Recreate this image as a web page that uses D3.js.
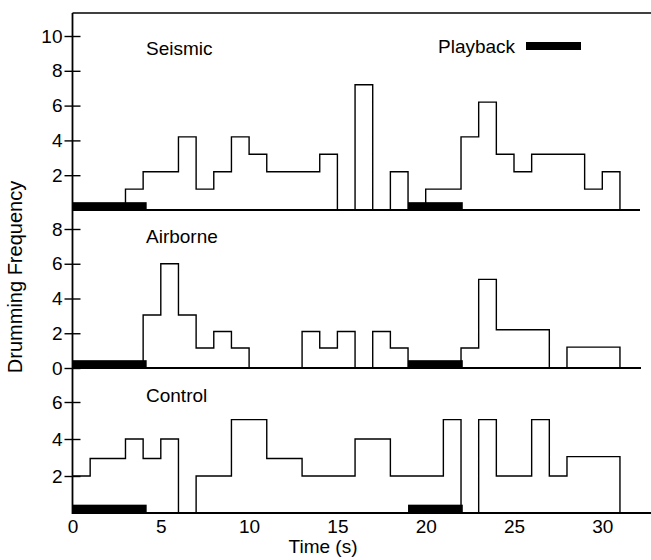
<!DOCTYPE html>
<html lang="en">

<head>
    <meta charset="UTF-8">
    <title>Drumming Frequency</title>
    <style>
        body {
            margin: 0;
            padding: 0;
            background-color: #fff;
            font-family: "Liberation Sans", Arial, sans-serif;
        }

        text {
            fill: #000;
        }
    </style>
</head>

<body>
    <div id="chart"></div>

    <script src="https://d3js.org/d3.v7.min.js"></script>
    <script>
        // 1 s bins, edges 0..31
        const binEdges = [0, 1, 2, 3, 4, 5, 6, 7, 8, 9, 10, 11, 12, 13, 14, 15, 16, 17, 18, 19, 20, 21, 22, 23, 24, 25, 26, 27, 28, 29, 30, 31];

        const seismic = [0, 0, 0, 1.2, 2.2, 2.2, 4.2, 1.2, 2.2, 4.2, 3.2, 2.2, 2.2, 2.2, 3.2, 0,
            7.2, 0, 2.2, 0, 1.2, 1.2, 4.2, 6.2, 3.2, 2.2, 3.2, 3.2, 3.2, 1.2, 2.2];
        const airborne = [0, 0, 0, 0, 3.05, 6.0, 3.05, 1.15, 2.1, 1.15, 0, 0, 0, 2.1, 1.15, 2.1,
            0, 2.1, 1.15, 0, 0, 0, 1.15, 5.1, 2.2, 2.2, 2.2, 0, 1.2, 1.2, 1.2];
        const control = [2, 2.95, 2.95, 4, 2.95, 4, 0, 2, 2, 5.05, 5.05, 2.95, 2.95, 2, 2, 2,
            4, 4, 2, 2, 2, 5.05, 0, 5.05, 2, 2, 5.05, 2, 3.05, 3.05, 3.05];

        // playback periods (s)
        const playback = [[0, 4.2], [19, 22.1]];

        const xTicks = [0, 5, 10, 15, 20, 25, 30];
        const seismicTicks = [2, 4, 6, 8, 10];
        const airborneTicks = [0, 2, 4, 6, 8];
        const controlTicks = [2, 4, 6];
        const panelNames = ["Seismic", "Airborne", "Control"];

        const width = 651, height = 560;
        const fontFamily = '"Liberation Sans", Arial, sans-serif';

        const svg = d3.select('#chart')
            .append('svg')
            .attr('width', width)
            .attr('height', height);

        const x = d3.scaleLinear().domain([0, 30]).range([72.5, 602.3]);

        // one panel per treatment, stacked on a shared vertical axis
        const panels = [
            { name: panelNames[0], values: seismic, ticks: seismicTicks, y: d3.scaleLinear().domain([0, 10]).range([210, 36]), end: 640, labelY: 55 },
            { name: panelNames[1], values: airborne, ticks: airborneTicks, y: d3.scaleLinear().domain([0, 8]).range([368, 229]), end: 641, labelY: 243 },
            { name: panelNames[2], values: control, ticks: controlTicks, y: d3.scaleLinear().domain([0, 6]).range([513, 402]), end: 651, labelY: 402 }
        ];

        const barHeight = 0.45; // thickness of playback bar, in data units

        panels.forEach(p => {
            const g = svg.append('g');

            // playback bars
            g.selectAll('.pb')
                .data(playback)
                .enter().append('rect')
                .attr('x', d => x(d[0]))
                .attr('y', p.y(barHeight))
                .attr('width', d => x(d[1]) - x(d[0]))
                .attr('height', p.y(0) - p.y(barHeight))
                .attr('fill', '#000');

            // step outline
            const pts = p.values.map((v, i) => [binEdges[i], v]);
            pts.push([binEdges[binEdges.length - 1], 0]);

            const line = d3.line()
                .x(d => x(d[0]))
                .y(d => p.y(d[1]))
                .curve(d3.curveStepAfter);

            g.append('path')
                .attr('d', line(pts))
                .attr('fill', 'none')
                .attr('stroke', '#000')
                .attr('stroke-width', 1.4);

            // baseline
            g.append('line')
                .attr('x1', x(0)).attr('x2', p.end)
                .attr('y1', p.y(0)).attr('y2', p.y(0))
                .attr('stroke', '#000')
                .attr('stroke-width', 1.8);

            // y ticks
            const yAxis = d3.axisLeft(p.y)
                .tickValues(p.ticks)
                .tickSize(8)
                .tickPadding(2)
                .tickFormat(d3.format('d'));

            const ax = g.append('g')
                .attr('transform', `translate(${x(0)},0)`)
                .call(yAxis);
            ax.select('.domain').remove();
            ax.selectAll('.tick line')
                .attr('x2', 8)
                .attr('x1', -8)
                .attr('stroke-width', 1.4);
            ax.selectAll('.tick text')
                .attr('font-size', 19)
                .attr('font-family', fontFamily);

            g.append('text')
                .attr('x', 146)
                .attr('y', p.labelY)
                .attr('font-size', 19)
                .text(p.name);
        });

        // shared vertical axis and top frame
        svg.append('line')
            .attr('x1', x(0)).attr('x2', x(0))
            .attr('y1', 13).attr('y2', 514)
            .attr('stroke', '#000')
            .attr('stroke-width', 1.8);

        svg.append('line')
            .attr('x1', x(0)).attr('x2', 651)
            .attr('y1', 13).attr('y2', 13)
            .attr('stroke', '#000')
            .attr('stroke-width', 1.5);

        // x axis labels (no tick marks)
        const xAxis = d3.axisBottom(x)
            .tickValues(xTicks)
            .tickSize(0)
            .tickPadding(7);

        const xa = svg.append('g')
            .attr('transform', `translate(0,513)`)
            .call(xAxis);
        xa.select('.domain').remove();
        xa.selectAll('.tick text')
            .attr('font-size', 19)
            .attr('font-family', fontFamily);

        svg.append('text')
            .attr('x', 323)
            .attr('y', 553)
            .attr('text-anchor', 'middle')
            .attr('font-size', 19)
            .text('Time (s)');

        svg.append('text')
            .attr('transform', 'translate(22,277) rotate(-90)')
            .attr('text-anchor', 'middle')
            .attr('font-size', 20)
            .text('Drumming Frequency');

        // legend
        svg.append('text')
            .attr('x', 438)
            .attr('y', 53)
            .attr('font-size', 19)
            .text('Playback');

        svg.append('rect')
            .attr('x', 526)
            .attr('y', 42)
            .attr('width', 55)
            .attr('height', 8)
            .attr('fill', '#000');
    </script>
</body>

</html>
